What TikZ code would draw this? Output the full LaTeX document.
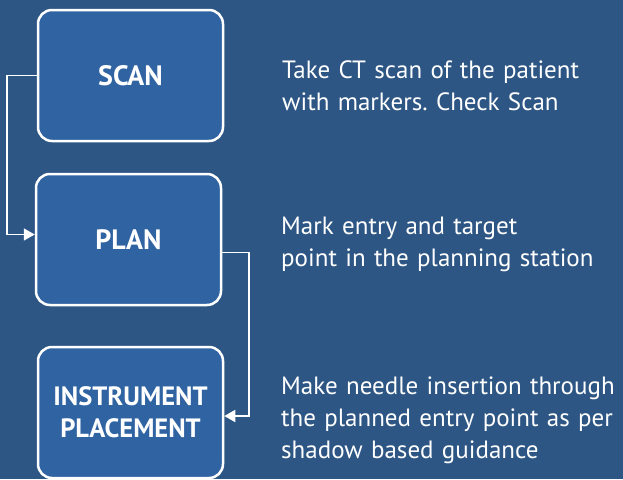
\documentclass[tikz,border=0pt]{standalone}
\usepackage{fontspec}
\setmainfont{PT Sans}
\usepackage{tikz}
\usepackage{xcolor}
\usetikzlibrary{arrows.meta, positioning}

\definecolor{bgblue}{RGB}{45,86,132}
\definecolor{boxblue}{RGB}{48,99,162}

\tikzset{
    stage/.style={draw=white, line width=2.5pt, fill=boxblue, rounded corners=14pt,
        minimum width=185pt, minimum height=131pt, align=center, text=white,
        font=\bfseries\fontsize{28}{33}\selectfont},
    note/.style={anchor=base west, text width=345pt, align=left, inner sep=0pt,
        text=white, font=\frenchspacing\fontsize{25}{32}\selectfont},
    link/.style={draw=white, line width=1.6pt, -{Triangle[length=11pt, width=12pt]}}
}

\begin{document}
\begin{tikzpicture}[x=1pt, y=-1pt, node distance=164pt, on grid]
        
        \fill[bgblue] (0,0) rectangle (623,479);
        \useasboundingbox (0,0) rectangle (623,479);
        
        \node[stage] (scan) at (130.5,75.5) {SCAN};
        \node[stage, xshift=-2pt] (plan) [below=of scan] {PLAN};
        \node[stage, xshift=2pt, font=\bfseries\fontsize{26.5}{32}\selectfont] (instr) [below=173pt of plan] {INSTRUMENT\\PLACEMENT};
        
        \node[note] (scan_note) at (282,78) {Take CT scan of the patient\\with markers. Check Scan};
        \node[note] (plan_note) at (281,234) {Mark entry and target\\point in the planning station};
        \node[note] (instr_note) at (281,394) {Make needle insertion through\\the planned entry point as per\\shadow based guidance};
        
        \draw[link] (scan.west) -- ++(-30,0) |- ([yshift=5pt]plan.west);
        \draw[link] ([yshift=-13pt]plan.east) -- ++(27,0) |- ([yshift=-3.5pt]instr.east);
    \end{tikzpicture}
\end{document}
